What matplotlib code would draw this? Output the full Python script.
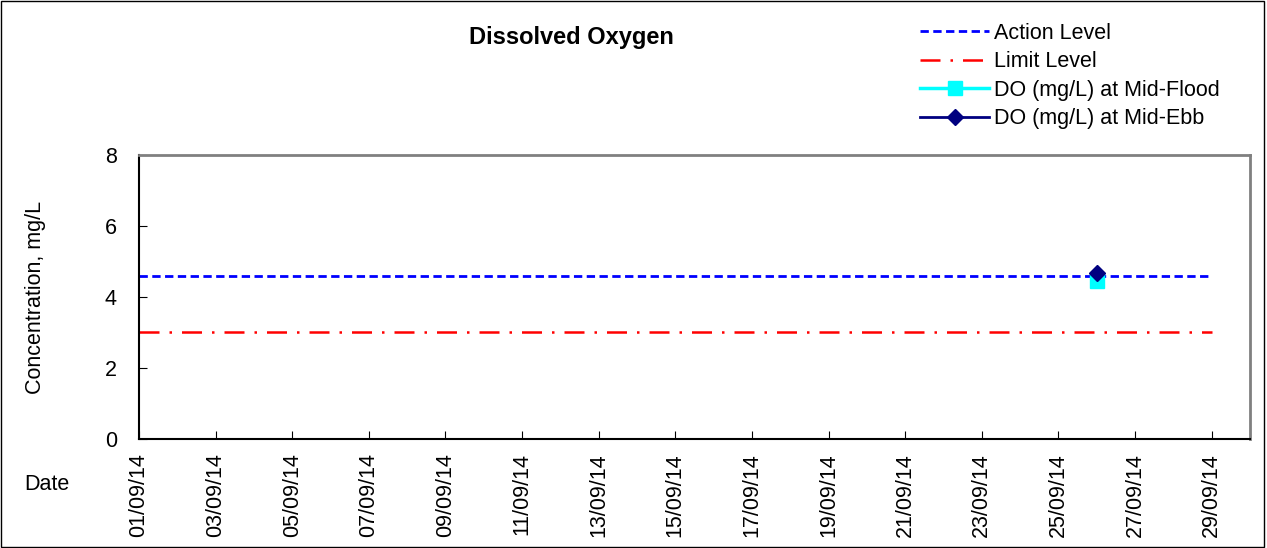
import numpy as np
import matplotlib
matplotlib.use('Agg')
import matplotlib.pyplot as plt
import matplotlib.dates as mdates
import pandas as pd

plt.rcParams['font.family'] = ['Liberation Sans', 'DejaVu Sans']

# levels and monitoring results
line_dates = pd.to_datetime(['2014-09-01', '2014-09-29'])
action_level = [4.6, 4.6]
limit_level = [3.0, 3.0]

sample_dates = pd.to_datetime(['2014-09-26'])
do_flood = [4.45]
do_ebb = [4.67]

tick_dates = pd.date_range('2014-09-01', '2014-09-29', freq='2D')

fs = 15.5

fig = plt.figure(figsize=(12.67, 5.48), dpi=100)
ax = fig.add_axes([0.1097, 0.1989, 0.8769, 0.5183])

ax.plot(line_dates, action_level, color='#0000ff', ls=(0, (3, 1.6)), lw=2,
        label='Action Level')
ax.plot(line_dates, limit_level, color='#ff0000', ls=(0, (8, 4, 1, 4)), lw=1.8,
        label='Limit Level')
ax.plot(sample_dates, do_flood, color='#00ffff', marker='s', ms=10.5, lw=2.5,
        label='DO (mg/L) at Mid-Flood')
ax.plot(sample_dates, do_ebb, color='#000080', marker='D', ms=8, lw=2,
        label='DO (mg/L) at Mid-Ebb')

ax.set_xlim(pd.Timestamp('2014-09-01'), pd.Timestamp('2014-09-30'))
ax.set_ylim(0, 8)
ax.set_yticks([0, 2, 4, 6, 8])
ax.set_xticks(tick_dates)
ax.xaxis.set_major_formatter(mdates.DateFormatter('%d/%m/%y'))
ax.tick_params(axis='both', direction='in', length=6, labelsize=fs, color='black')
ax.tick_params(axis='x', labelrotation=90, pad=10)
ax.tick_params(axis='y', pad=16)
for lbl in ax.get_xticklabels():
    lbl.set_horizontalalignment('center')

ax.spines['top'].set_color('#808080')
ax.spines['right'].set_color('#808080')
ax.spines['top'].set_linewidth(2)
ax.spines['right'].set_linewidth(2)
ax.spines['left'].set_linewidth(1.5)
ax.spines['bottom'].set_linewidth(1.5)

ax.set_ylabel('Concentration, mg/L', fontsize=fs, labelpad=42)
fig.text(0.019, 0.115, 'Date', fontsize=fs, ha='left', va='center')
fig.text(0.451, 0.932, 'Dissolved Oxygen', fontsize=17, fontweight='bold',
         ha='center', va='center')

fig.legend(loc='upper left', bbox_to_anchor=(0.716, 0.982), frameon=False,
           fontsize=fs, handlelength=3.2, handletextpad=0.25,
           labelspacing=0.35, borderaxespad=0.2)

fig.patches.append(plt.Rectangle((0.001, 0.002), 0.997, 0.996,
                                 transform=fig.transFigure, fill=False,
                                 edgecolor='black', lw=1))

fig.savefig('out.png', dpi=100)
